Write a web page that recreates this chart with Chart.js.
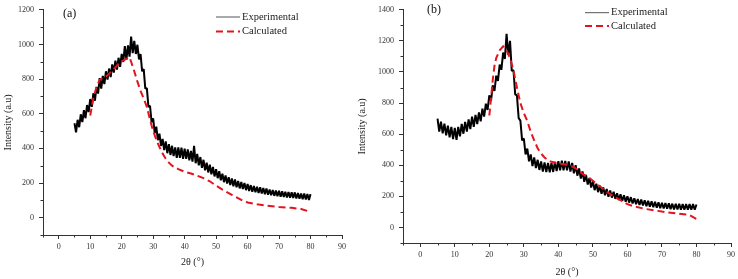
<!DOCTYPE html>
<html>
<head>
<meta charset="utf-8">
<script src="https://cdn.jsdelivr.net/npm/chart.js@4.4.1/dist/chart.umd.min.js"></script>
<style>
  body { margin: 0; background: #fff; }
  #wrapA { position: absolute; left: 0; top: 0; }
  #wrapB { position: absolute; left: 350px; top: 0; }
</style>
</head>
<body>
<div id="wrapA"><canvas id="chartA" width="350" height="279"></canvas></div>
<div id="wrapB"><canvas id="chartB" width="388" height="279"></canvas></div>
<script>
// 2theta grid of the measured patterns (both samples)
const twoTheta = [
  5, 5.5, 6, 6.5, 7, 7.5, 8, 8.5, 9, 9.5,
  10, 10.5, 11, 11.5, 12, 12.5, 13, 13.5, 14, 14.5,
  15, 15.5, 16, 16.5, 17, 17.5, 18, 18.5, 19, 19.5,
  20, 20.5, 21, 21.5, 22, 22.5, 23, 23.5, 24, 24.5,
  25, 25.5, 26, 26.5, 27, 27.5, 28, 28.5, 29, 29.5,
  30, 30.5, 31, 31.5, 32, 32.5, 33, 33.5, 34, 34.5,
  35, 35.5, 36, 36.5, 37, 37.5, 38, 38.5, 39, 39.5,
  40, 40.5, 41, 41.5, 42, 42.5, 43, 43.5, 44, 44.5,
  45, 45.5, 46, 46.5, 47, 47.5, 48, 48.5, 49, 49.5,
  50, 50.5, 51, 51.5, 52, 52.5, 53, 53.5, 54, 54.5,
  55, 55.5, 56, 56.5, 57, 57.5, 58, 58.5, 59, 59.5,
  60, 60.5, 61, 61.5, 62, 62.5, 63, 63.5, 64, 64.5,
  65, 65.5, 66, 66.5, 67, 67.5, 68, 68.5, 69, 69.5,
  70, 70.5, 71, 71.5, 72, 72.5, 73, 73.5, 74, 74.5,
  75, 75.5, 76, 76.5, 77, 77.5, 78, 78.5, 79, 79.5,
  80
];

// (a) experimental intensity
const expA = [
  545, 493, 565, 522, 597, 552, 621, 574, 650, 610,
  685, 640, 718, 675, 755, 716, 805, 745, 818, 771,
  845, 797, 861, 812, 885, 838, 907, 855, 923, 871,
  945, 899, 990, 913, 995, 930, 1045, 950, 1020, 945,
  998, 914, 945, 845, 858, 745, 748, 640, 646, 552,
  573, 488, 525, 447, 485, 414, 455, 390, 440, 372,
  425, 362, 415, 355, 406, 346, 405, 345, 404, 340,
  398, 339, 394, 331, 386, 323, 415, 314, 368, 302,
  350, 288, 334, 273, 318, 261, 306, 250, 293, 238,
  280, 228, 268, 216, 254, 205, 244, 197, 234, 188,
  227, 181, 220, 175, 212, 169, 206, 165, 200, 159,
  195, 154, 188, 149, 183, 147, 179, 143, 175, 139,
  171, 135, 168, 132, 163, 129, 160, 126, 157, 124,
  156, 121, 152, 119, 150, 117, 148, 115, 146, 113,
  146, 111, 142, 109, 140, 107, 140, 105, 137, 102,
  136
];

// (b) experimental intensity
const expB = [
  700, 617, 680, 605, 668, 592, 655, 579, 647, 568,
  641, 564, 647, 586, 666, 603, 679, 616, 695, 633,
  713, 647, 724, 665, 740, 682, 764, 713, 796, 756,
  850, 815, 914, 878, 976, 943, 1048, 1014, 1125, 1084,
  1245, 1110, 1200, 1007, 1011, 856, 849, 703, 687, 560,
  572, 470, 507, 425, 470, 395, 450, 382, 435, 370,
  425, 359, 418, 356, 415, 355, 415, 357, 422, 362,
  427, 367, 430, 368, 428, 367, 425, 360, 415, 348,
  400, 333, 380, 314, 360, 294, 338, 276, 318, 257,
  297, 240, 281, 227, 268, 217, 258, 207, 247, 198,
  238, 192, 230, 184, 220, 176, 213, 170, 207, 166,
  201, 160, 195, 154, 188, 149, 183, 145, 179, 141,
  175, 137, 171, 133, 168, 130, 165, 127, 162, 124,
  159, 122, 157, 120, 155, 118, 153, 116, 152, 115,
  153, 114, 150, 114, 150, 114, 150, 114, 150, 114,
  148
];

// calculated curves
const calcAngleA = [10, 11, 12, 13, 14, 15, 16, 17, 18, 19, 20, 21, 22, 22.5, 23, 24, 25, 26, 27, 28, 29, 30, 31, 32, 33, 34, 35, 36, 38, 40, 42, 44, 46, 48, 50, 52, 55, 58, 60, 63, 66, 70, 74, 77, 80];
const calcA = [590, 690, 755, 795, 805, 815, 830, 850, 868, 888, 903, 913, 922, 926, 900, 845, 785, 732, 688, 640, 565, 500, 450, 408, 370, 340, 318, 300, 280, 265, 255, 242, 228, 210, 185, 162, 132, 103, 88, 78, 70, 62, 57, 50, 33];

const calcAngleB = [20, 20.5, 21, 21.5, 22, 23, 24, 25, 26, 27, 28, 29, 30, 31, 32, 33, 34, 35, 36, 37, 38, 40, 42, 44, 45, 46, 47, 48, 49, 50, 52, 54, 56, 58, 60, 62, 65, 70, 75, 78, 80];
const calcB = [720, 830, 950, 1040, 1090, 1140, 1165, 1140, 1090, 1010, 900, 800, 735, 685, 615, 560, 510, 475, 450, 433, 422, 412, 405, 392, 380, 365, 345, 332, 317, 300, 265, 230, 200, 175, 150, 135, 120, 102, 88, 80, 55];

// tick labels
const xTicks = [0, 10, 20, 30, 40, 50, 60, 70, 80, 90];
const xMinor = [-5, 5, 15, 25, 35, 45, 55, 65, 75, 85];
const yTicksA = [0, 200, 400, 600, 800, 1000, 1200];
const yMinorA = [-100, 100, 300, 500, 700, 900, 1100];
const yTicksB = [0, 200, 400, 600, 800, 1000, 1200, 1400];
const yMinorB = [-100, 100, 300, 500, 700, 900, 1100, 1300];

const serif = '"Liberation Serif", "Times New Roman", serif';
const axisColor = '#333';
const redDash = '#e3131f';

const toPoints = (xs, ys) => xs.map((x, i) => ({ x: x, y: ys[i] }));

// minor ticks, panel label and legend drawn on top
const extras = {
  id: 'extras',
  afterDraw(chart, args, o) {
    const ctx = chart.ctx;
    const sx = chart.scales.x, sy = chart.scales.y;
    ctx.save();
    ctx.strokeStyle = axisColor;
    ctx.lineWidth = 1;
    ctx.beginPath();
    o.xMinor.forEach(v => {
      const px = Math.round(sx.getPixelForValue(v)) + 0.5;
      ctx.moveTo(px, sx.top);
      ctx.lineTo(px, sx.top + 2.5);
    });
    o.yMinor.forEach(v => {
      const py = Math.round(sy.getPixelForValue(v)) + 0.5;
      ctx.moveTo(sy.right, py);
      ctx.lineTo(sy.right - 2.5, py);
    });
    ctx.stroke();

    ctx.fillStyle = '#111';
    ctx.textBaseline = 'middle';
    ctx.font = '12px ' + serif;
    ctx.fillText(o.tag, o.tagX, o.tagY);

    ctx.font = '10.5px ' + serif;
    chart.data.datasets.forEach((ds, i) => {
      const y = o.legY + i * o.legGap;
      ctx.strokeStyle = ds.legendColor;
      ctx.lineWidth = ds.legendWidth;
      ctx.setLineDash(ds.borderDash || []);
      ctx.beginPath();
      ctx.moveTo(o.legX, y);
      ctx.lineTo(o.legX + 24, y);
      ctx.stroke();
      ctx.setLineDash([]);
      ctx.fillStyle = '#222';
      ctx.fillText(ds.label, o.legX + 26, y);
    });
    ctx.restore();
  }
};

function makeChart(id, expVals, cAngles, cVals, yTicks, yMax, lay) {
  return new Chart(document.getElementById(id), {
    type: 'scatter',
    data: {
      datasets: [
        {
          label: 'Experimental',
          data: toPoints(twoTheta, expVals),
          showLine: true,
          borderColor: '#000',
          borderWidth: 2,
          borderJoinStyle: 'bevel',
          legendColor: '#555',
          legendWidth: 1,
          pointRadius: 0,
          order: 2
        },
        {
          label: 'Calculated',
          data: toPoints(cAngles, cVals),
          showLine: true,
          borderColor: redDash,
          borderWidth: 2,
          borderDash: [7, 4],
          legendColor: redDash,
          legendWidth: 2,
          pointRadius: 0,
          order: 1
        }
      ]
    },
    options: {
      responsive: false,
      animation: false,
      devicePixelRatio: 1,
      layout: { padding: { left: 0, right: lay.right, top: lay.top, bottom: 0 } },
      plugins: {
        legend: { display: false },
        tooltip: { enabled: false },
        extras: lay.extras
      },
      scales: {
        x: {
          type: 'linear',
          min: -5,
          max: 90,
          afterBuildTicks: s => { s.ticks = xTicks.map(v => ({ value: v })); },
          afterFit: s => { s.height = lay.xHeight; },
          grid: { drawOnChartArea: false, tickLength: 4, color: axisColor, tickColor: axisColor },
          border: { display: true, color: axisColor, width: 1 },
          ticks: { font: { family: serif, size: 8 }, color: axisColor, padding: 3, maxRotation: 0, autoSkip: false, callback: v => String(v) },
          title: { display: true, text: '2θ (°)', font: { family: serif, size: 10 }, color: '#222', padding: { top: 2, bottom: lay.xTitleBottom } }
        },
        y: {
          type: 'linear',
          min: -100,
          max: yMax,
          afterBuildTicks: s => { s.ticks = yTicks.map(v => ({ value: v })); },
          afterFit: s => { s.width = lay.yWidth; },
          grid: { drawOnChartArea: false, tickLength: 4, color: axisColor, tickColor: axisColor },
          border: { display: true, color: axisColor, width: 1 },
          ticks: { font: { family: serif, size: 8 }, color: axisColor, padding: 5, callback: v => String(v) },
          title: { display: true, text: 'Intensity (a.u)', font: { family: serif, size: 10 }, color: '#222', padding: { top: lay.yTitleTop, bottom: 0 } }
        }
      }
    },
    plugins: [extras]
  });
}

makeChart('chartA', expA, calcAngleA, calcA, yTicksA, 1200, {
  right: 8, top: 6, xHeight: 44, yWidth: 43, xTitleBottom: 11, yTitleTop: 2,
  extras: { xMinor: xMinor, yMinor: yMinorA, tag: '(a)', tagX: 63, tagY: 14, legX: 216, legY: 17, legGap: 14.5 }
});

makeChart('chartB', expB, calcAngleB, calcB, yTicksB, 1400, {
  right: 6, top: 5, xHeight: 36, yWidth: 53, xTitleBottom: 1, yTitleTop: 6,
  extras: { xMinor: xMinor, yMinor: yMinorB, tag: '(b)', tagX: 77, tagY: 10, legX: 235, legY: 12.7, legGap: 13.4 }
});
</script>
</body>
</html>
